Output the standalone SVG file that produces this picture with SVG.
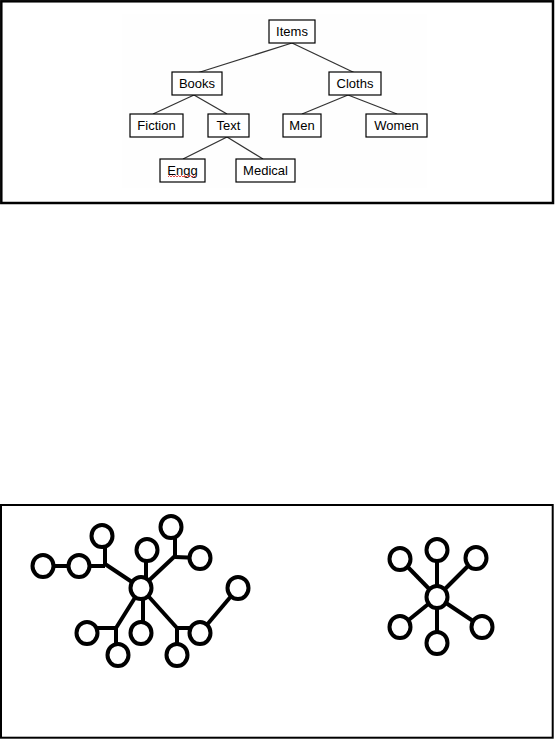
<svg xmlns="http://www.w3.org/2000/svg" width="555" height="740" viewBox="0 0 555 740">
<style>
.frame{fill:none;stroke:#000;stroke-width:2.5}
.box{fill:#fff;stroke:#000;stroke-width:1.2}
.lbl{font-family:"Liberation Sans",Arial,sans-serif;font-size:13px;fill:#000;text-anchor:middle;dominant-baseline:central}
.edge{stroke:#333;stroke-width:1.3;fill:none}
.g line,.g polyline{stroke:#000;stroke-width:4;fill:none}
.g ellipse{fill:#fff;stroke:#000;stroke-width:4}
</style>
<rect width="555" height="740" fill="#fff"/>
<rect class="frame" x="1.3" y="1.3" width="551.7" height="201.7"/>
<rect x="122" y="14" width="305" height="174" fill="#fefefe"/>
<g id="tree-edges">
<line class="edge" x1="292" y1="43" x2="197" y2="73"/>
<line class="edge" x1="292" y1="43" x2="355" y2="73"/>
<line class="edge" x1="194" y1="95" x2="153" y2="114"/>
<line class="edge" x1="194" y1="95" x2="227" y2="114"/>
<line class="edge" x1="348" y1="95" x2="302" y2="114"/>
<line class="edge" x1="348" y1="95" x2="397" y2="114"/>
<line class="edge" x1="227" y1="137" x2="183" y2="159"/>
<line class="edge" x1="227" y1="137" x2="263" y2="159"/>
</g>
<g id="n-items"><rect class="box" x="269" y="20" width="46" height="23"/><text class="lbl" x="292" y="31.5">Items</text></g>
<g id="n-books"><rect class="box" x="172" y="72" width="50" height="23"/><text class="lbl" x="197" y="83.5">Books</text></g>
<g id="n-cloths"><rect class="box" x="329" y="72" width="52" height="23"/><text class="lbl" x="355" y="83.5">Cloths</text></g>
<g id="n-fiction"><rect class="box" x="130" y="114" width="53" height="23"/><text class="lbl" x="156.5" y="125.5">Fiction</text></g>
<g id="n-text"><rect class="box" x="208" y="114" width="41" height="23"/><text class="lbl" x="228.5" y="125.5">Text</text></g>
<g id="n-men"><rect class="box" x="283" y="114" width="38" height="23"/><text class="lbl" x="302" y="125.5">Men</text></g>
<g id="n-women"><rect class="box" x="366" y="114" width="61" height="23"/><text class="lbl" x="396.5" y="125.5">Women</text></g>
<g id="n-engg"><rect class="box" x="160" y="159" width="45" height="23"/><text class="lbl" x="182.5" y="170.5">Engg</text>
<path d="M168,177 l1.5,-1.5 l1.5,1.5 l1.5,-1.5 l1.5,1.5 l1.5,-1.5 l1.5,1.5 l1.5,-1.5 l1.5,1.5 l1.5,-1.5 l1.5,1.5 l1.5,-1.5 l1.5,1.5 l1.5,-1.5 l1.5,1.5 l1.5,-1.5 l1.5,1.5 l1.5,-1.5 l1.5,1.5" fill="none" stroke="#e02020" stroke-width="0.8"/></g>
<g id="n-medical"><rect class="box" x="236" y="159" width="59" height="23"/><text class="lbl" x="265.5" y="170.5">Medical</text></g>

<rect class="frame" x="1" y="505" width="551.7" height="232.7" style="stroke-width:2"/>

<g id="graph-left" class="g">
<g id="left-edges">
<line x1="43" y1="566" x2="79" y2="566"/>
<polyline points="79,566 105,566"/>
<line x1="105" y1="537" x2="105" y2="566"/>
<line x1="105" y1="564" x2="141" y2="588"/>
<line x1="146" y1="551" x2="146" y2="588"/>
<line x1="175" y1="527" x2="175" y2="557"/>
<line x1="175" y1="557" x2="200" y2="558"/>
<line x1="176" y1="555" x2="141" y2="588"/>
<line x1="141" y1="588" x2="116" y2="628"/>
<line x1="87" y1="628" x2="116" y2="628"/>
<line x1="116" y1="626" x2="116" y2="655"/>
<line x1="143" y1="588" x2="143" y2="633"/>
<line x1="141" y1="588" x2="177" y2="628"/>
<line x1="177" y1="628" x2="200" y2="628"/>
<line x1="177" y1="626" x2="177" y2="655"/>
<line x1="200" y1="633" x2="238" y2="588"/>
</g>
<ellipse id="c-hub" cx="141" cy="588" rx="10.5" ry="11"/>
<ellipse id="c-l1" cx="43" cy="566" rx="10.5" ry="11"/>
<ellipse id="c-l2" cx="79" cy="566" rx="10.5" ry="11"/>
<ellipse id="c-ul" cx="102" cy="536" rx="10.5" ry="11"/>
<ellipse id="c-tm" cx="147" cy="550" rx="10.5" ry="11"/>
<ellipse id="c-tr" cx="171" cy="527" rx="10.5" ry="11"/>
<ellipse id="c-ru" cx="200" cy="558" rx="10.5" ry="11"/>
<ellipse id="c-fr" cx="238" cy="588" rx="10.5" ry="11"/>
<ellipse id="c-bl" cx="87" cy="633" rx="10.5" ry="11"/>
<ellipse id="c-bll" cx="118" cy="655" rx="10.5" ry="11"/>
<ellipse id="c-bm" cx="141" cy="633" rx="10.5" ry="11"/>
<ellipse id="c-rl" cx="200" cy="633" rx="10.5" ry="11"/>
<ellipse id="c-br" cx="177" cy="655" rx="10.5" ry="11"/>
</g>

<g id="graph-right" class="g">
<g id="right-edges">
<line x1="437" y1="597" x2="437" y2="550"/>
<line x1="437" y1="597" x2="400" y2="559"/>
<line x1="437" y1="597" x2="476" y2="558"/>
<line x1="437" y1="597" x2="400" y2="627"/>
<line x1="437" y1="597" x2="482" y2="627"/>
<line x1="437" y1="597" x2="437" y2="643"/>
</g>
<ellipse id="r-hub" cx="437" cy="597" rx="10.5" ry="11"/>
<ellipse id="r-t" cx="437" cy="550" rx="10.5" ry="11"/>
<ellipse id="r-tl" cx="400" cy="559" rx="10.5" ry="11"/>
<ellipse id="r-tr" cx="476" cy="558" rx="10.5" ry="11"/>
<ellipse id="r-bl" cx="400" cy="627" rx="10.5" ry="11"/>
<ellipse id="r-brc" cx="482" cy="627" rx="10.5" ry="11"/>
<ellipse id="r-b" cx="437" cy="643" rx="10.5" ry="11"/>
</g>
</svg>
